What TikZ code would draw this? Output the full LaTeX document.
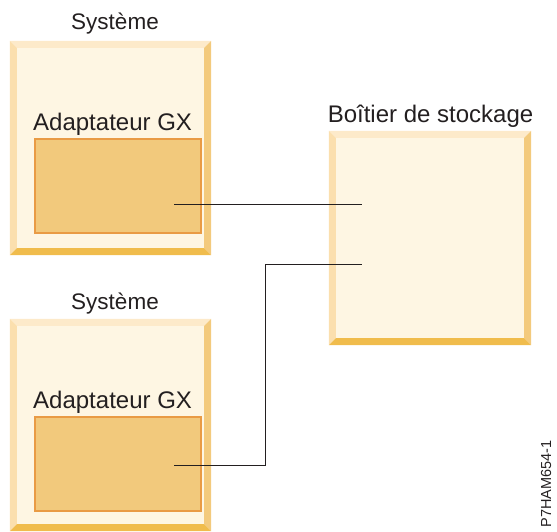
\documentclass[tikz,border=0pt]{standalone}
\usepackage{fontspec}
\setmainfont{Liberation Sans}
\definecolor{cream}{HTML}{FEF6E3}
\definecolor{bevtop}{HTML}{FDEACA}
\definecolor{bevleft}{HTML}{FBDFAE}
\definecolor{bevright}{HTML}{F3CA7D}
\definecolor{bevbot}{HTML}{F0BC4C}
\definecolor{adfill}{HTML}{F2C97C}
\definecolor{adline}{HTML}{E99B45}
\definecolor{ink}{HTML}{231F20}
\tikzset{
  boxbase/.style={rectangle, inner sep=0pt, fill=cream, draw=none},
  adapter/.style={rectangle, inner sep=0pt, fill=adfill, draw=adline, line width=1.6pt},
  lbl/.style={text=ink, inner sep=0pt, font=\fontsize{24}{28}\selectfont, anchor=base},
  syslbl/.style={lbl, font=\fontsize{22.5}{27}\selectfont},
  wire/.style={draw=ink, line width=0.9pt},
  tag/.style={text=ink, inner sep=0pt, font=\fontsize{14.5}{17}\selectfont, rotate=90, anchor=base}
}
\newcommand\bevdraw[1]{%
  \fill[bevtop] (#1.north west) -- (#1.north east) -- ([shift={(-7pt,-7pt)}]#1.north east) -- ([shift={(7pt,-7pt)}]#1.north west) -- cycle;
  \fill[bevleft] (#1.north west) -- ([shift={(7pt,-7pt)}]#1.north west) -- ([shift={(7pt,7pt)}]#1.south west) -- (#1.south west) -- cycle;
  \fill[bevright] (#1.north east) -- (#1.south east) -- ([shift={(-7pt,7pt)}]#1.south east) -- ([shift={(-7pt,-7pt)}]#1.north east) -- cycle;
  \fill[bevbot] (#1.south west) -- ([shift={(7pt,7pt)}]#1.south west) -- ([shift={(-7pt,7pt)}]#1.south east) -- (#1.south east) -- cycle;
}
\begin{document}
\begin{tikzpicture}[x=1pt,y=-1pt]
\useasboundingbox (0,0) rectangle (557,531);
% system 1
\node[boxbase, minimum width=201pt, minimum height=214pt] (sys1) at (110.5,148) {};
\bevdraw{sys1}
\node[syslbl] (sys1lbl) at (115,29) {Système};
\node[lbl, anchor=base west] (ad1lbl) at (33,130) {Adaptateur GX};
\node[adapter, minimum width=166pt, minimum height=94pt] (ad1) at (118,186) {};
% system 2
\node[boxbase, minimum width=201pt, minimum height=212pt] (sys2) at (110.5,425) {};
\bevdraw{sys2}
\node[syslbl] (sys2lbl) at (115,309) {Système};
\node[lbl, anchor=base west] (ad2lbl) at (33,408) {Adaptateur GX};
\node[adapter, minimum width=166pt, minimum height=94pt] (ad2) at (118,464) {};
% storage
\node[boxbase, minimum width=202pt, minimum height=214pt] (stor) at (430,238) {};
\bevdraw{stor}
\node[lbl] (storlbl) at (430.5,122) {Boîtier de stockage};
% connection points
\coordinate (p1) at (174,204);
\coordinate (q1) at (362,204);
\coordinate (p2) at (174,465);
\coordinate (q2) at (362,264);
\coordinate (bend) at (265,264);
\draw[wire] (p1) -- (q1);
\draw[wire] (p2) -| (bend) -- (q2);
\node[tag] (tag) at (551,484) {P7HAM654-1};
\end{tikzpicture}
\end{document}
